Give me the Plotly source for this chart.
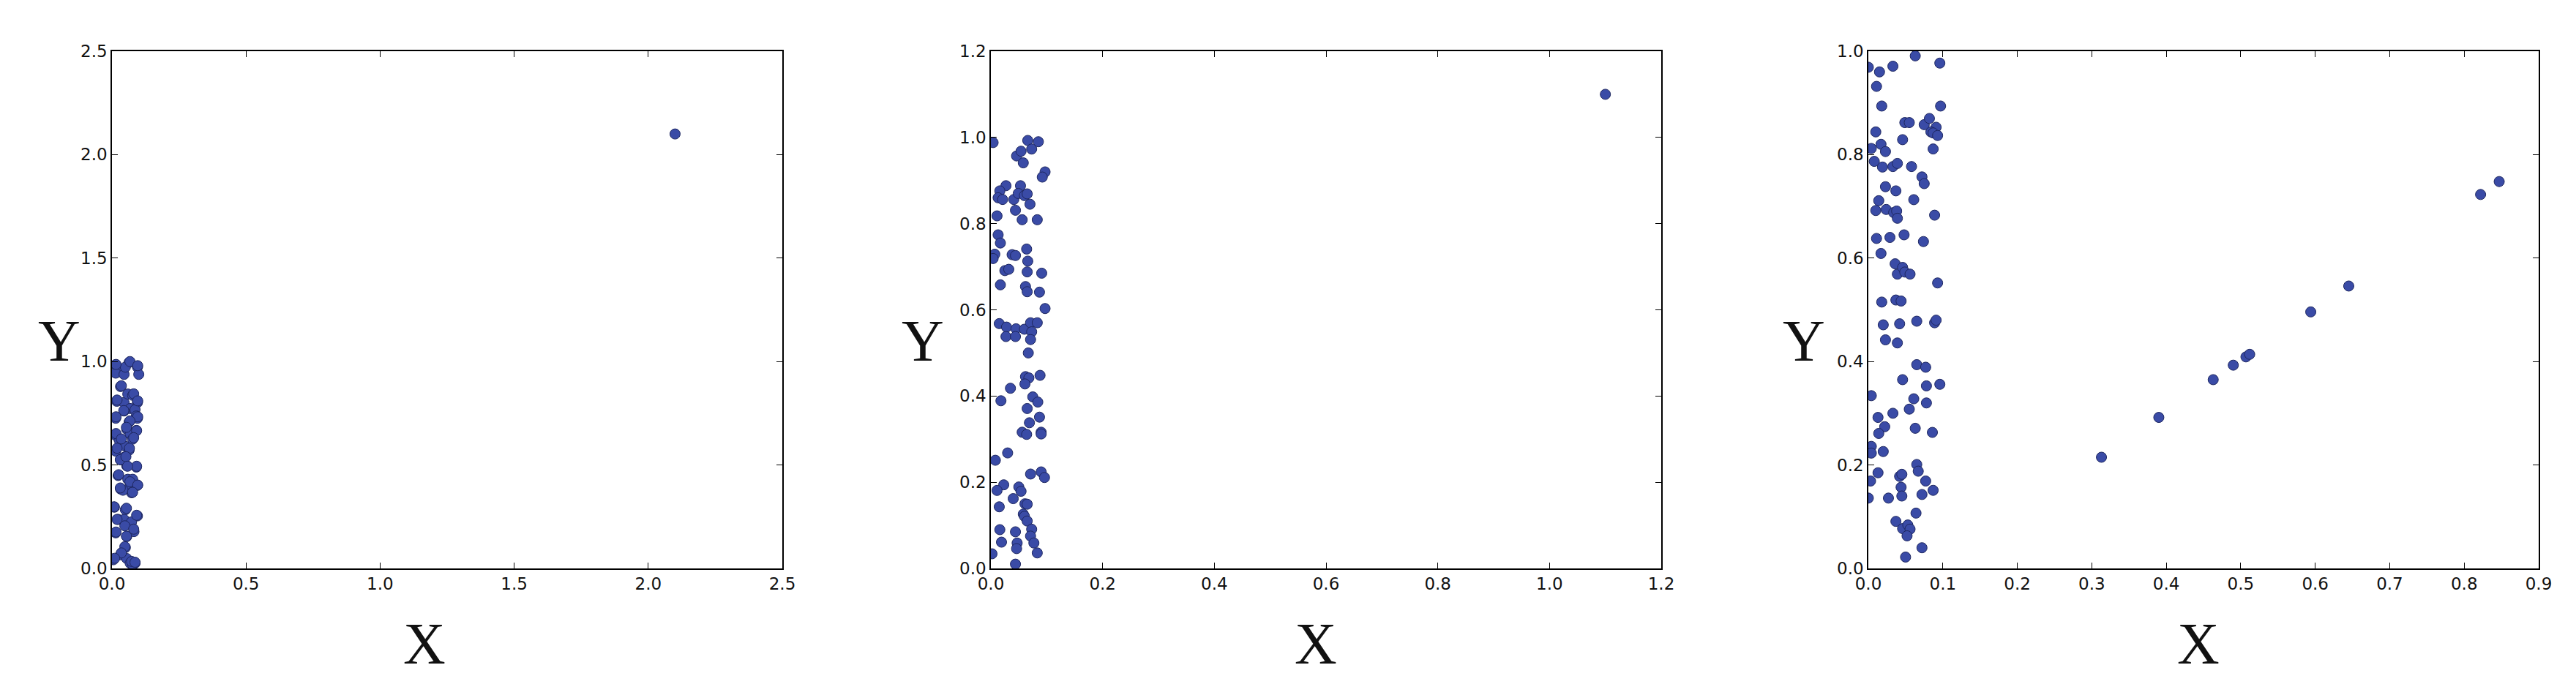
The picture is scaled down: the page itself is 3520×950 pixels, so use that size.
import plotly.graph_objects as go

# panel 1 : dense cluster near x=0 plus one far point
x1 = [0.014, 0.023, 0.014, 0.045, 0.064, 0.095, 0.100, 0.050, 0.032, 0.018,
      0.045, 0.059, 0.077, 0.095, 0.068, 0.045, 0.086, 0.091, 0.095, 0.014,
      0.064, 0.055, 0.091, 0.068, 0.014, 0.027, 0.077, 0.050, 0.064, 0.014,
      0.032, 0.045, 0.055, 0.091, 0.023, 0.059, 0.077, 0.032, 0.068, 0.095,
      0.073, 0.041, 0.009, 0.050, 0.095, 0.023, 0.045, 0.073, 0.014, 0.055,
      0.082, 0.050, 0.032, 0.055, 0.068, 0.086, 0.005, 0.077,
      0.015, 0.067, 0.096, 0.035, 0.019, 0.081, 0.096, 0.044, 0.015, 0.096,
      0.067, 0.015, 0.092, 0.054, 0.035, 0.081, 0.065, 0.019, 0.031, 0.052,
      0.092, 0.058, 0.025, 0.067, 0.031, 0.096, 0.077, 0.008, 0.054, 0.019,
      0.092, 0.048, 0.081, 0.015, 0.054, 0.048, 0.035, 0.010, 0.073, 0.086,
      2.1]
y1 = [0.985, 0.961, 0.944, 0.938, 0.996, 0.973, 0.938, 0.973, 0.879, 0.808,
      0.802, 0.843, 0.837, 0.802, 0.773, 0.761, 0.767, 0.737, 0.726, 0.726,
      0.708, 0.673, 0.667, 0.649, 0.643, 0.620, 0.625, 0.590, 0.572, 0.567,
      0.525, 0.537, 0.496, 0.490, 0.449, 0.431, 0.431, 0.384, 0.402, 0.402,
      0.366, 0.378, 0.296, 0.284, 0.254, 0.237, 0.237, 0.225, 0.172, 0.154,
      0.178, 0.101, 0.066, 0.048, 0.025, 0.025, 0.042, 0.019,
      0.986, 1.000, 0.980, 0.883, 0.814, 0.844, 0.810, 0.763, 0.733, 0.733,
      0.713, 0.652, 0.666, 0.682, 0.626, 0.632, 0.581, 0.581, 0.526, 0.540,
      0.494, 0.494, 0.453, 0.419, 0.389, 0.403, 0.368, 0.298, 0.291, 0.237,
      0.257, 0.206, 0.190, 0.176, 0.156, 0.105, 0.075, 0.049, 0.034, 0.030,
      2.1]

# panel 2
x2 = [0.004, 0.066, 0.085, 0.073, 0.046, 0.054, 0.058, 0.097, 0.092, 0.027,
      0.016, 0.013, 0.021, 0.053, 0.041, 0.049, 0.060, 0.065, 0.070, 0.044,
      0.011, 0.056, 0.083, 0.013, 0.017, 0.007, 0.004, 0.038, 0.044, 0.064,
      0.066, 0.025, 0.032, 0.065, 0.091, 0.017, 0.062, 0.065, 0.087, 0.097,
      0.015, 0.028, 0.027, 0.045, 0.044, 0.060, 0.071, 0.083, 0.073, 0.071,
      0.067, 0.062, 0.068, 0.061, 0.088, 0.035, 0.018, 0.075, 0.084, 0.065,
      0.087, 0.069, 0.056, 0.064, 0.090, 0.090, 0.030, 0.008, 0.071, 0.090,
      0.096, 0.023, 0.011, 0.050, 0.054, 0.040, 0.015, 0.061, 0.065, 0.058,
      0.060, 0.065, 0.016, 0.044, 0.073, 0.071, 0.019, 0.047, 0.077, 0.046,
      0.083, 0.002, 0.044, 1.1]
y2 = [0.988, 0.993, 0.990, 0.973, 0.957, 0.968, 0.941, 0.920, 0.908, 0.888,
      0.876, 0.860, 0.856, 0.888, 0.856, 0.870, 0.865, 0.869, 0.845, 0.831,
      0.818, 0.809, 0.809, 0.774, 0.755, 0.729, 0.719, 0.728, 0.726, 0.741,
      0.713, 0.691, 0.694, 0.688, 0.685, 0.658, 0.654, 0.642, 0.641, 0.603,
      0.568, 0.560, 0.538, 0.556, 0.538, 0.555, 0.570, 0.570, 0.549, 0.531,
      0.500, 0.445, 0.442, 0.428, 0.448, 0.418, 0.389, 0.398, 0.386, 0.371,
      0.351, 0.338, 0.316, 0.311, 0.316, 0.312, 0.268, 0.251, 0.219, 0.224,
      0.211, 0.194, 0.181, 0.189, 0.179, 0.162, 0.143, 0.150, 0.149, 0.126,
      0.121, 0.110, 0.090, 0.085, 0.091, 0.075, 0.061, 0.059, 0.059, 0.046,
      0.036, 0.034, 0.010, 1.1]

# panel 3 : cluster plus points on a line
x3 = [0.000, 0.063, 0.096, 0.033, 0.015, 0.011, 0.018, 0.097, 0.049, 0.055,
      0.075, 0.082, 0.091, 0.084, 0.087, 0.093, 0.010, 0.046, 0.004, 0.017,
      0.023, 0.087, 0.008, 0.019, 0.033, 0.039, 0.058, 0.072, 0.075, 0.023,
      0.037, 0.061, 0.014, 0.010, 0.024, 0.034, 0.038, 0.039, 0.089, 0.011,
      0.029, 0.048, 0.074, 0.017, 0.036, 0.039, 0.046, 0.049, 0.056, 0.093,
      0.018, 0.037, 0.044, 0.020, 0.042, 0.065, 0.089, 0.091, 0.023, 0.039,
      0.065, 0.077, 0.046, 0.078, 0.096, 0.004, 0.061, 0.078, 0.055, 0.033,
      0.013, 0.022, 0.014, 0.063, 0.086, 0.004, 0.004, 0.020, 0.065, 0.067,
      0.013, 0.003, 0.042, 0.045, 0.077, 0.044, 0.045, 0.072, 0.087, 0.000,
      0.027, 0.064, 0.037, 0.046, 0.053, 0.056, 0.052, 0.072, 0.050,
      0.313, 0.390, 0.463, 0.490, 0.507, 0.512, 0.594, 0.645, 0.822, 0.847]
y3 = [0.969, 0.991, 0.977, 0.971, 0.960, 0.932, 0.894, 0.894, 0.862, 0.862,
      0.858, 0.870, 0.853, 0.844, 0.842, 0.837, 0.844, 0.829, 0.812, 0.820,
      0.806, 0.811, 0.787, 0.776, 0.777, 0.783, 0.777, 0.757, 0.744, 0.738,
      0.730, 0.713, 0.711, 0.692, 0.694, 0.688, 0.691, 0.677, 0.683, 0.638,
      0.640, 0.645, 0.632, 0.609, 0.589, 0.569, 0.582, 0.573, 0.569, 0.552,
      0.515, 0.519, 0.517, 0.471, 0.473, 0.478, 0.475, 0.480, 0.442, 0.436,
      0.394, 0.389, 0.365, 0.353, 0.356, 0.334, 0.328, 0.320, 0.308, 0.300,
      0.292, 0.274, 0.261, 0.271, 0.263, 0.236, 0.223, 0.226, 0.201, 0.188,
      0.185, 0.169, 0.178, 0.182, 0.169, 0.157, 0.140, 0.143, 0.151, 0.136,
      0.136, 0.107, 0.091, 0.077, 0.084, 0.076, 0.063, 0.040, 0.022,
      0.215, 0.292, 0.365, 0.393, 0.409, 0.414, 0.496, 0.546, 0.723, 0.748]

x_ranges = [[0, 2.5], [0, 1.2], [0, 0.9]]
y_ranges = [[0, 2.5], [0, 1.2], [0, 1.0]]
x_dticks = [0.5, 0.2, 0.1]
y_dticks = [0.5, 0.2, 0.2]

W, H = 3520, 950
lefts = [153, 1354, 2553]
width = 916
top, bottom = 70, 777
xlab_cx = [580, 1798, 3004]
ylab_cx = [81, 1261, 2465]

fig = go.Figure()
for i, (xs, ys) in enumerate([(x1, y1), (x2, y2), (x3, y3)]):
    n = "" if i == 0 else str(i + 1)
    fig.add_trace(go.Scatter(x=xs, y=ys, mode="markers",
                             xaxis="x" + n, yaxis="y" + n, showlegend=False,
                             marker=dict(size=14, color="#3A4BA6",
                                         line=dict(color="#1E2760", width=1))))
    common = dict(showgrid=False, zeroline=False, automargin=False,
                  showline=True, linecolor="black", linewidth=1.5, mirror="ticks",
                  ticks="inside", ticklen=8, tickcolor="black", tickwidth=1,
                  tickformat=".1f", tick0=0,
                  tickfont=dict(family="DejaVu Sans", size=23, color="#111"))
    fig.layout["xaxis" + n] = dict(range=x_ranges[i], dtick=x_dticks[i],
                                   domain=[lefts[i] / W, (lefts[i] + width) / W],
                                   anchor="y" + n, **common)
    fig.layout["yaxis" + n] = dict(range=y_ranges[i], dtick=y_dticks[i],
                                   domain=[1 - bottom / H, 1 - top / H],
                                   anchor="x" + n, **common)
    fig.add_annotation(text="X", xref="paper", yref="paper",
                       x=xlab_cx[i] / W, y=1 - 880 / H, showarrow=False,
                       xanchor="center", yanchor="middle",
                       font=dict(family="Liberation Serif", size=80, color="#111"))
    fig.add_annotation(text="Y", xref="paper", yref="paper",
                       x=ylab_cx[i] / W, y=1 - 466 / H, showarrow=False,
                       xanchor="center", yanchor="middle",
                       font=dict(family="Liberation Serif", size=80, color="#111"))

fig.update_layout(width=W, height=H, margin=dict(l=0, r=0, t=0, b=0),
                  template="none", plot_bgcolor="white", paper_bgcolor="white")
fig.write_html("out.html", config={"displayModeBar": False},
               post_script="document.body.style.margin='0px';")
